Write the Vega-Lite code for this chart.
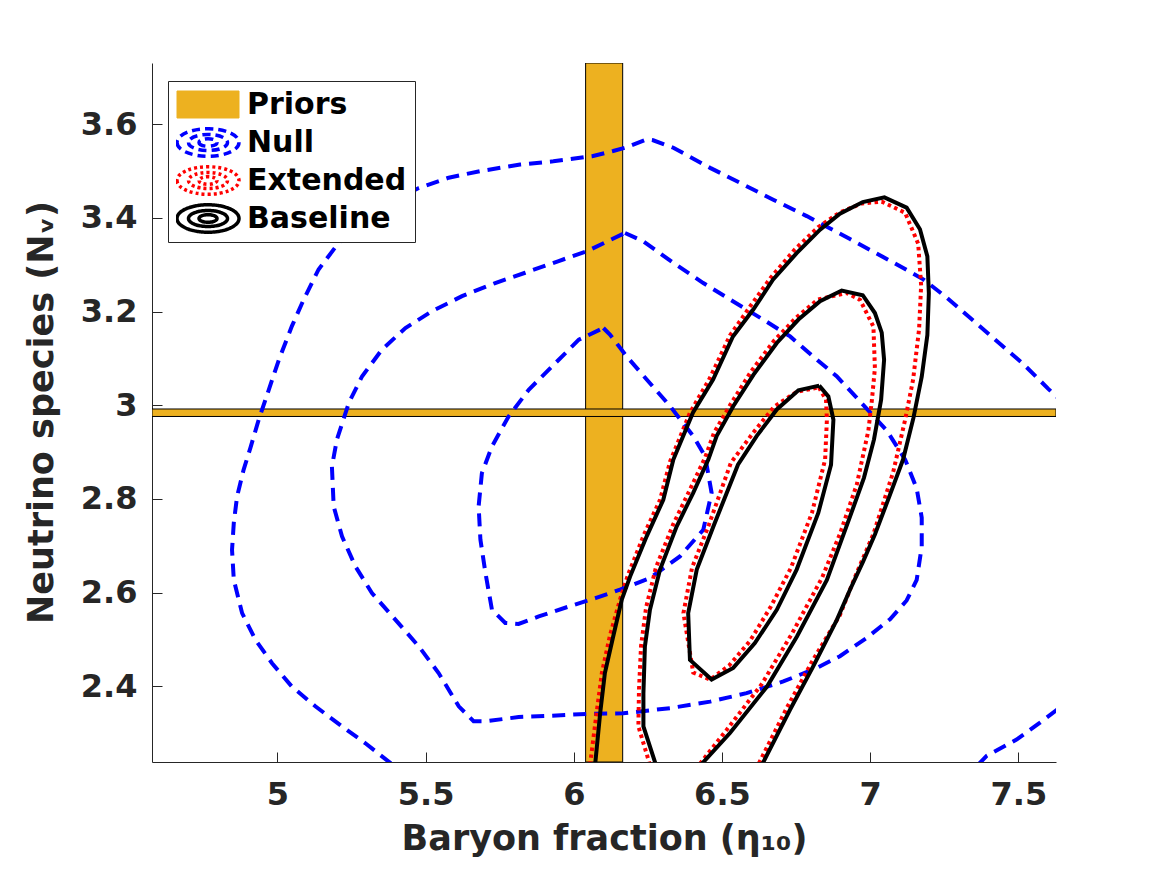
{
  "$schema": "https://vega.github.io/schema/vega-lite/v6.json",
  "width": 904,
  "height": 699,
  "autosize": {"type": "none"},
  "padding": {"left": 152, "top": 63, "right": 111, "bottom": 113},
  "background": "white",
  "config": {
    "view": {"stroke": null},
    "font": "DejaVu Sans"
  },
  "datasets": {
    "priors": [
      {"s": "Priors", "x": 6.04, "x2": 6.165, "y": 2.238, "y2": 3.731},
      {"s": "Priors", "x": 4.577, "x2": 7.627, "y": 2.976, "y2": 2.992}
    ],
    "nullc": [
      {"s":"Null","k":"N1","i":0,"x":5.383,"y":2.235},
      {"s":"Null","k":"N1","i":1,"x":5.297,"y":2.278},
      {"s":"Null","k":"N1","i":2,"x":5.218,"y":2.314},
      {"s":"Null","k":"N1","i":3,"x":5.128,"y":2.357},
      {"s":"Null","k":"N1","i":4,"x":5.049,"y":2.399},
      {"s":"Null","k":"N1","i":5,"x":4.982,"y":2.449},
      {"s":"Null","k":"N1","i":6,"x":4.926,"y":2.499},
      {"s":"Null","k":"N1","i":7,"x":4.881,"y":2.556},
      {"s":"Null","k":"N1","i":8,"x":4.853,"y":2.627},
      {"s":"Null","k":"N1","i":9,"x":4.847,"y":2.691},
      {"s":"Null","k":"N1","i":10,"x":4.853,"y":2.749},
      {"s":"Null","k":"N1","i":11,"x":4.864,"y":2.805},
      {"s":"Null","k":"N1","i":12,"x":4.886,"y":2.862},
      {"s":"Null","k":"N1","i":13,"x":4.909,"y":2.909},
      {"s":"Null","k":"N1","i":14,"x":4.937,"y":2.969},
      {"s":"Null","k":"N1","i":15,"x":4.971,"y":3.033},
      {"s":"Null","k":"N1","i":16,"x":5.005,"y":3.097},
      {"s":"Null","k":"N1","i":17,"x":5.049,"y":3.169},
      {"s":"Null","k":"N1","i":18,"x":5.089,"y":3.226},
      {"s":"Null","k":"N1","i":19,"x":5.139,"y":3.290},
      {"s":"Null","k":"N1","i":20,"x":5.207,"y":3.347},
      {"s":"Null","k":"N1","i":21,"x":5.319,"y":3.414},
      {"s":"Null","k":"N1","i":22,"x":5.477,"y":3.464},
      {"s":"Null","k":"N1","i":23,"x":5.578,"y":3.486},
      {"s":"Null","k":"N1","i":24,"x":5.684,"y":3.500},
      {"s":"Null","k":"N1","i":25,"x":5.819,"y":3.514},
      {"s":"Null","k":"N1","i":26,"x":5.931,"y":3.521},
      {"s":"Null","k":"N1","i":27,"x":6.062,"y":3.532},
      {"s":"Null","k":"N1","i":28,"x":6.133,"y":3.543},
      {"s":"Null","k":"N1","i":29,"x":6.173,"y":3.550},
      {"s":"Null","k":"N1","i":30,"x":6.246,"y":3.568},
      {"s":"Null","k":"N1","i":31,"x":6.268,"y":3.566},
      {"s":"Null","k":"N1","i":32,"x":6.336,"y":3.550},
      {"s":"Null","k":"N1","i":33,"x":6.460,"y":3.507},
      {"s":"Null","k":"N1","i":34,"x":6.561,"y":3.475},
      {"s":"Null","k":"N1","i":35,"x":6.673,"y":3.439},
      {"s":"Null","k":"N1","i":36,"x":6.786,"y":3.404},
      {"s":"Null","k":"N1","i":37,"x":6.932,"y":3.355},
      {"s":"Null","k":"N1","i":38,"x":7.078,"y":3.305},
      {"s":"Null","k":"N1","i":39,"x":7.179,"y":3.269},
      {"s":"Null","k":"N1","i":40,"x":7.258,"y":3.230},
      {"s":"Null","k":"N1","i":41,"x":7.348,"y":3.181},
      {"s":"Null","k":"N1","i":42,"x":7.427,"y":3.137},
      {"s":"Null","k":"N1","i":43,"x":7.517,"y":3.088},
      {"s":"Null","k":"N1","i":44,"x":7.601,"y":3.035},
      {"s":"Null","k":"N1","i":45,"x":7.640,"y":3.012},
      {"s":"Null","k":"N2","i":0,"x":7.364,"y":2.232},
      {"s":"Null","k":"N2","i":1,"x":7.393,"y":2.251},
      {"s":"Null","k":"N2","i":2,"x":7.494,"y":2.286},
      {"s":"Null","k":"N2","i":3,"x":7.573,"y":2.322},
      {"s":"Null","k":"N2","i":4,"x":7.640,"y":2.354},
      {"s":"Null","k":"N3","i":0,"x":6.173,"y":3.368},
      {"s":"Null","k":"N3","i":1,"x":6.235,"y":3.350},
      {"s":"Null","k":"N3","i":2,"x":6.336,"y":3.304},
      {"s":"Null","k":"N3","i":3,"x":6.437,"y":3.261},
      {"s":"Null","k":"N3","i":4,"x":6.527,"y":3.226},
      {"s":"Null","k":"N3","i":5,"x":6.639,"y":3.183},
      {"s":"Null","k":"N3","i":6,"x":6.730,"y":3.147},
      {"s":"Null","k":"N3","i":7,"x":6.808,"y":3.104},
      {"s":"Null","k":"N3","i":8,"x":6.887,"y":3.062},
      {"s":"Null","k":"N3","i":9,"x":6.966,"y":3.008},
      {"s":"Null","k":"N3","i":10,"x":7.056,"y":2.946},
      {"s":"Null","k":"N3","i":11,"x":7.118,"y":2.884},
      {"s":"Null","k":"N3","i":12,"x":7.157,"y":2.822},
      {"s":"Null","k":"N3","i":13,"x":7.174,"y":2.760},
      {"s":"Null","k":"N3","i":14,"x":7.174,"y":2.698},
      {"s":"Null","k":"N3","i":15,"x":7.157,"y":2.627},
      {"s":"Null","k":"N3","i":16,"x":7.123,"y":2.583},
      {"s":"Null","k":"N3","i":17,"x":7.067,"y":2.543},
      {"s":"Null","k":"N3","i":18,"x":6.988,"y":2.503},
      {"s":"Null","k":"N3","i":19,"x":6.898,"y":2.464},
      {"s":"Null","k":"N3","i":20,"x":6.820,"y":2.439},
      {"s":"Null","k":"N3","i":21,"x":6.707,"y":2.410},
      {"s":"Null","k":"N3","i":22,"x":6.583,"y":2.385},
      {"s":"Null","k":"N3","i":23,"x":6.460,"y":2.367},
      {"s":"Null","k":"N3","i":24,"x":6.325,"y":2.353},
      {"s":"Null","k":"N3","i":25,"x":6.167,"y":2.342},
      {"s":"Null","k":"N3","i":26,"x":6.050,"y":2.341},
      {"s":"Null","k":"N3","i":27,"x":5.927,"y":2.337},
      {"s":"Null","k":"N3","i":28,"x":5.814,"y":2.334},
      {"s":"Null","k":"N3","i":29,"x":5.702,"y":2.325},
      {"s":"Null","k":"N3","i":30,"x":5.662,"y":2.325},
      {"s":"Null","k":"N3","i":31,"x":5.612,"y":2.357},
      {"s":"Null","k":"N3","i":32,"x":5.544,"y":2.428},
      {"s":"Null","k":"N3","i":33,"x":5.477,"y":2.485},
      {"s":"Null","k":"N3","i":34,"x":5.398,"y":2.542},
      {"s":"Null","k":"N3","i":35,"x":5.319,"y":2.599},
      {"s":"Null","k":"N3","i":36,"x":5.263,"y":2.656},
      {"s":"Null","k":"N3","i":37,"x":5.218,"y":2.720},
      {"s":"Null","k":"N3","i":38,"x":5.190,"y":2.784},
      {"s":"Null","k":"N3","i":39,"x":5.184,"y":2.869},
      {"s":"Null","k":"N3","i":40,"x":5.201,"y":2.927},
      {"s":"Null","k":"N3","i":41,"x":5.241,"y":3.005},
      {"s":"Null","k":"N3","i":42,"x":5.286,"y":3.062},
      {"s":"Null","k":"N3","i":43,"x":5.353,"y":3.119},
      {"s":"Null","k":"N3","i":44,"x":5.432,"y":3.165},
      {"s":"Null","k":"N3","i":45,"x":5.522,"y":3.201},
      {"s":"Null","k":"N3","i":46,"x":5.623,"y":3.233},
      {"s":"Null","k":"N3","i":47,"x":5.735,"y":3.261},
      {"s":"Null","k":"N3","i":48,"x":5.836,"y":3.283},
      {"s":"Null","k":"N3","i":49,"x":5.949,"y":3.308},
      {"s":"Null","k":"N3","i":50,"x":6.044,"y":3.329},
      {"s":"Null","k":"N3","i":51,"x":6.173,"y":3.368},
      {"s":"Null","k":"N4","i":0,"x":6.100,"y":3.165},
      {"s":"Null","k":"N4","i":1,"x":6.122,"y":3.151},
      {"s":"Null","k":"N4","i":2,"x":6.179,"y":3.104},
      {"s":"Null","k":"N4","i":3,"x":6.246,"y":3.055},
      {"s":"Null","k":"N4","i":4,"x":6.325,"y":2.998},
      {"s":"Null","k":"N4","i":5,"x":6.403,"y":2.934},
      {"s":"Null","k":"N4","i":6,"x":6.443,"y":2.891},
      {"s":"Null","k":"N4","i":7,"x":6.465,"y":2.813},
      {"s":"Null","k":"N4","i":8,"x":6.437,"y":2.734},
      {"s":"Null","k":"N4","i":9,"x":6.358,"y":2.677},
      {"s":"Null","k":"N4","i":10,"x":6.257,"y":2.631},
      {"s":"Null","k":"N4","i":11,"x":6.156,"y":2.606},
      {"s":"Null","k":"N4","i":12,"x":6.073,"y":2.588},
      {"s":"Null","k":"N4","i":13,"x":5.983,"y":2.570},
      {"s":"Null","k":"N4","i":14,"x":5.882,"y":2.549},
      {"s":"Null","k":"N4","i":15,"x":5.814,"y":2.533},
      {"s":"Null","k":"N4","i":16,"x":5.769,"y":2.535},
      {"s":"Null","k":"N4","i":17,"x":5.724,"y":2.563},
      {"s":"Null","k":"N4","i":18,"x":5.702,"y":2.642},
      {"s":"Null","k":"N4","i":19,"x":5.685,"y":2.713},
      {"s":"Null","k":"N4","i":20,"x":5.679,"y":2.784},
      {"s":"Null","k":"N4","i":21,"x":5.690,"y":2.855},
      {"s":"Null","k":"N4","i":22,"x":5.724,"y":2.912},
      {"s":"Null","k":"N4","i":23,"x":5.780,"y":2.976},
      {"s":"Null","k":"N4","i":24,"x":5.848,"y":3.033},
      {"s":"Null","k":"N4","i":25,"x":5.927,"y":3.083},
      {"s":"Null","k":"N4","i":26,"x":6.017,"y":3.140},
      {"s":"Null","k":"N4","i":27,"x":6.100,"y":3.165}
    ],
    "extc": [
      {"s":"Extended","k":"E1","i":0,"x":6.055,"y":2.232},
      {"s":"Extended","k":"E1","i":1,"x":6.077,"y":2.343},
      {"s":"Extended","k":"E1","i":2,"x":6.095,"y":2.429},
      {"s":"Extended","k":"E1","i":3,"x":6.122,"y":2.508},
      {"s":"Extended","k":"E1","i":4,"x":6.156,"y":2.585},
      {"s":"Extended","k":"E1","i":5,"x":6.183,"y":2.638},
      {"s":"Extended","k":"E1","i":6,"x":6.237,"y":2.724},
      {"s":"Extended","k":"E1","i":7,"x":6.291,"y":2.798},
      {"s":"Extended","k":"E1","i":8,"x":6.325,"y":2.880},
      {"s":"Extended","k":"E1","i":9,"x":6.392,"y":2.984},
      {"s":"Extended","k":"E1","i":10,"x":6.460,"y":3.059},
      {"s":"Extended","k":"E1","i":11,"x":6.527,"y":3.149},
      {"s":"Extended","k":"E1","i":12,"x":6.595,"y":3.211},
      {"s":"Extended","k":"E1","i":13,"x":6.665,"y":3.273},
      {"s":"Extended","k":"E1","i":14,"x":6.746,"y":3.333},
      {"s":"Extended","k":"E1","i":15,"x":6.824,"y":3.380},
      {"s":"Extended","k":"E1","i":16,"x":6.898,"y":3.412},
      {"s":"Extended","k":"E1","i":17,"x":6.972,"y":3.431},
      {"s":"Extended","k":"E1","i":18,"x":7.039,"y":3.435},
      {"s":"Extended","k":"E1","i":19,"x":7.118,"y":3.411},
      {"s":"Extended","k":"E1","i":20,"x":7.162,"y":3.345},
      {"s":"Extended","k":"E1","i":21,"x":7.172,"y":3.256},
      {"s":"Extended","k":"E1","i":22,"x":7.165,"y":3.162},
      {"s":"Extended","k":"E1","i":23,"x":7.145,"y":3.055},
      {"s":"Extended","k":"E1","i":24,"x":7.118,"y":2.969},
      {"s":"Extended","k":"E1","i":25,"x":7.078,"y":2.858},
      {"s":"Extended","k":"E1","i":26,"x":7.011,"y":2.725},
      {"s":"Extended","k":"E1","i":27,"x":6.952,"y":2.638},
      {"s":"Extended","k":"E1","i":28,"x":6.898,"y":2.552},
      {"s":"Extended","k":"E1","i":29,"x":6.807,"y":2.456},
      {"s":"Extended","k":"E1","i":30,"x":6.719,"y":2.354},
      {"s":"Extended","k":"E1","i":31,"x":6.622,"y":2.232},
      {"s":"Extended","k":"E2","i":0,"x":6.257,"y":2.232},
      {"s":"Extended","k":"E2","i":1,"x":6.218,"y":2.314},
      {"s":"Extended","k":"E2","i":2,"x":6.220,"y":2.392},
      {"s":"Extended","k":"E2","i":3,"x":6.227,"y":2.486},
      {"s":"Extended","k":"E2","i":4,"x":6.244,"y":2.568},
      {"s":"Extended","k":"E2","i":5,"x":6.277,"y":2.653},
      {"s":"Extended","k":"E2","i":6,"x":6.335,"y":2.745},
      {"s":"Extended","k":"E2","i":7,"x":6.392,"y":2.820},
      {"s":"Extended","k":"E2","i":8,"x":6.443,"y":2.888},
      {"s":"Extended","k":"E2","i":9,"x":6.473,"y":2.941},
      {"s":"Extended","k":"E2","i":10,"x":6.530,"y":3.003},
      {"s":"Extended","k":"E2","i":11,"x":6.598,"y":3.072},
      {"s":"Extended","k":"E2","i":12,"x":6.676,"y":3.138},
      {"s":"Extended","k":"E2","i":13,"x":6.750,"y":3.187},
      {"s":"Extended","k":"E2","i":14,"x":6.824,"y":3.226},
      {"s":"Extended","k":"E2","i":15,"x":6.921,"y":3.240},
      {"s":"Extended","k":"E2","i":16,"x":6.966,"y":3.225},
      {"s":"Extended","k":"E2","i":17,"x":7.011,"y":3.168},
      {"s":"Extended","k":"E2","i":18,"x":7.016,"y":3.079},
      {"s":"Extended","k":"E2","i":19,"x":7.006,"y":3.012},
      {"s":"Extended","k":"E2","i":20,"x":6.994,"y":2.946},
      {"s":"Extended","k":"E2","i":21,"x":6.955,"y":2.831},
      {"s":"Extended","k":"E2","i":22,"x":6.898,"y":2.725},
      {"s":"Extended","k":"E2","i":23,"x":6.838,"y":2.632},
      {"s":"Extended","k":"E2","i":24,"x":6.736,"y":2.512},
      {"s":"Extended","k":"E2","i":25,"x":6.635,"y":2.405},
      {"s":"Extended","k":"E2","i":26,"x":6.514,"y":2.305},
      {"s":"Extended","k":"E2","i":27,"x":6.423,"y":2.232},
      {"s":"Extended","k":"E3","i":0,"x":6.827,"y":3.038},
      {"s":"Extended","k":"E3","i":1,"x":6.851,"y":3.012},
      {"s":"Extended","k":"E3","i":2,"x":6.854,"y":2.969},
      {"s":"Extended","k":"E3","i":3,"x":6.848,"y":2.884},
      {"s":"Extended","k":"E3","i":4,"x":6.804,"y":2.771},
      {"s":"Extended","k":"E3","i":5,"x":6.733,"y":2.653},
      {"s":"Extended","k":"E3","i":6,"x":6.665,"y":2.570},
      {"s":"Extended","k":"E3","i":7,"x":6.595,"y":2.497},
      {"s":"Extended","k":"E3","i":8,"x":6.524,"y":2.444},
      {"s":"Extended","k":"E3","i":9,"x":6.460,"y":2.414},
      {"s":"Extended","k":"E3","i":10,"x":6.403,"y":2.429},
      {"s":"Extended","k":"E3","i":11,"x":6.370,"y":2.556},
      {"s":"Extended","k":"E3","i":12,"x":6.399,"y":2.653},
      {"s":"Extended","k":"E3","i":13,"x":6.456,"y":2.745},
      {"s":"Extended","k":"E3","i":14,"x":6.530,"y":2.877},
      {"s":"Extended","k":"E3","i":15,"x":6.605,"y":2.941},
      {"s":"Extended","k":"E3","i":16,"x":6.676,"y":2.997},
      {"s":"Extended","k":"E3","i":17,"x":6.753,"y":3.029},
      {"s":"Extended","k":"E3","i":18,"x":6.827,"y":3.038}
    ],
    "basec": [
      {"s":"Baseline","k":"B1","i":0,"x":6.072,"y":2.232},
      {"s":"Baseline","k":"B1","i":1,"x":6.089,"y":2.342},
      {"s":"Baseline","k":"B1","i":2,"x":6.105,"y":2.428},
      {"s":"Baseline","k":"B1","i":3,"x":6.133,"y":2.506},
      {"s":"Baseline","k":"B1","i":4,"x":6.162,"y":2.585},
      {"s":"Baseline","k":"B1","i":5,"x":6.190,"y":2.634},
      {"s":"Baseline","k":"B1","i":6,"x":6.246,"y":2.720},
      {"s":"Baseline","k":"B1","i":7,"x":6.302,"y":2.798},
      {"s":"Baseline","k":"B1","i":8,"x":6.336,"y":2.884},
      {"s":"Baseline","k":"B1","i":9,"x":6.402,"y":2.984},
      {"s":"Baseline","k":"B1","i":10,"x":6.470,"y":3.055},
      {"s":"Baseline","k":"B1","i":11,"x":6.537,"y":3.147},
      {"s":"Baseline","k":"B1","i":12,"x":6.605,"y":3.204},
      {"s":"Baseline","k":"B1","i":13,"x":6.672,"y":3.268},
      {"s":"Baseline","k":"B1","i":14,"x":6.752,"y":3.325},
      {"s":"Baseline","k":"B1","i":15,"x":6.831,"y":3.375},
      {"s":"Baseline","k":"B1","i":16,"x":6.898,"y":3.409},
      {"s":"Baseline","k":"B1","i":17,"x":6.975,"y":3.434},
      {"s":"Baseline","k":"B1","i":18,"x":7.048,"y":3.444},
      {"s":"Baseline","k":"B1","i":19,"x":7.123,"y":3.422},
      {"s":"Baseline","k":"B1","i":20,"x":7.168,"y":3.376},
      {"s":"Baseline","k":"B1","i":21,"x":7.193,"y":3.318},
      {"s":"Baseline","k":"B1","i":22,"x":7.198,"y":3.239},
      {"s":"Baseline","k":"B1","i":23,"x":7.193,"y":3.150},
      {"s":"Baseline","k":"B1","i":24,"x":7.174,"y":3.061},
      {"s":"Baseline","k":"B1","i":25,"x":7.146,"y":2.973},
      {"s":"Baseline","k":"B1","i":26,"x":7.111,"y":2.884},
      {"s":"Baseline","k":"B1","i":27,"x":7.067,"y":2.809},
      {"s":"Baseline","k":"B1","i":28,"x":7.016,"y":2.724},
      {"s":"Baseline","k":"B1","i":29,"x":6.976,"y":2.666},
      {"s":"Baseline","k":"B1","i":30,"x":6.932,"y":2.606},
      {"s":"Baseline","k":"B1","i":31,"x":6.888,"y":2.542},
      {"s":"Baseline","k":"B1","i":32,"x":6.807,"y":2.441},
      {"s":"Baseline","k":"B1","i":33,"x":6.730,"y":2.350},
      {"s":"Baseline","k":"B1","i":34,"x":6.635,"y":2.232},
      {"s":"Baseline","k":"B2","i":0,"x":6.277,"y":2.232},
      {"s":"Baseline","k":"B2","i":1,"x":6.235,"y":2.314},
      {"s":"Baseline","k":"B2","i":2,"x":6.235,"y":2.385},
      {"s":"Baseline","k":"B2","i":3,"x":6.240,"y":2.485},
      {"s":"Baseline","k":"B2","i":4,"x":6.257,"y":2.563},
      {"s":"Baseline","k":"B2","i":5,"x":6.291,"y":2.649},
      {"s":"Baseline","k":"B2","i":6,"x":6.347,"y":2.741},
      {"s":"Baseline","k":"B2","i":7,"x":6.403,"y":2.813},
      {"s":"Baseline","k":"B2","i":8,"x":6.454,"y":2.884},
      {"s":"Baseline","k":"B2","i":9,"x":6.482,"y":2.934},
      {"s":"Baseline","k":"B2","i":10,"x":6.538,"y":2.998},
      {"s":"Baseline","k":"B2","i":11,"x":6.606,"y":3.065},
      {"s":"Baseline","k":"B2","i":12,"x":6.685,"y":3.133},
      {"s":"Baseline","k":"B2","i":13,"x":6.758,"y":3.183},
      {"s":"Baseline","k":"B2","i":14,"x":6.831,"y":3.222},
      {"s":"Baseline","k":"B2","i":15,"x":6.904,"y":3.245},
      {"s":"Baseline","k":"B2","i":16,"x":6.975,"y":3.235},
      {"s":"Baseline","k":"B2","i":17,"x":7.016,"y":3.197},
      {"s":"Baseline","k":"B2","i":18,"x":7.039,"y":3.155},
      {"s":"Baseline","k":"B2","i":19,"x":7.047,"y":3.097},
      {"s":"Baseline","k":"B2","i":20,"x":7.037,"y":3.012},
      {"s":"Baseline","k":"B2","i":21,"x":7.013,"y":2.927},
      {"s":"Baseline","k":"B2","i":22,"x":6.979,"y":2.845},
      {"s":"Baseline","k":"B2","i":23,"x":6.932,"y":2.762},
      {"s":"Baseline","k":"B2","i":24,"x":6.854,"y":2.627},
      {"s":"Baseline","k":"B2","i":25,"x":6.753,"y":2.506},
      {"s":"Baseline","k":"B2","i":26,"x":6.652,"y":2.399},
      {"s":"Baseline","k":"B2","i":27,"x":6.527,"y":2.300},
      {"s":"Baseline","k":"B2","i":28,"x":6.429,"y":2.232},
      {"s":"Baseline","k":"B3","i":0,"x":6.828,"y":3.042},
      {"s":"Baseline","k":"B3","i":1,"x":6.859,"y":3.019},
      {"s":"Baseline","k":"B3","i":2,"x":6.876,"y":2.969},
      {"s":"Baseline","k":"B3","i":3,"x":6.868,"y":2.873},
      {"s":"Baseline","k":"B3","i":4,"x":6.825,"y":2.770},
      {"s":"Baseline","k":"B3","i":5,"x":6.752,"y":2.649},
      {"s":"Baseline","k":"B3","i":6,"x":6.685,"y":2.563},
      {"s":"Baseline","k":"B3","i":7,"x":6.611,"y":2.492},
      {"s":"Baseline","k":"B3","i":8,"x":6.538,"y":2.439},
      {"s":"Baseline","k":"B3","i":9,"x":6.465,"y":2.414},
      {"s":"Baseline","k":"B3","i":10,"x":6.392,"y":2.456},
      {"s":"Baseline","k":"B3","i":11,"x":6.386,"y":2.556},
      {"s":"Baseline","k":"B3","i":12,"x":6.415,"y":2.649},
      {"s":"Baseline","k":"B3","i":13,"x":6.471,"y":2.741},
      {"s":"Baseline","k":"B3","i":14,"x":6.554,"y":2.873},
      {"s":"Baseline","k":"B3","i":15,"x":6.617,"y":2.934},
      {"s":"Baseline","k":"B3","i":16,"x":6.685,"y":2.991},
      {"s":"Baseline","k":"B3","i":17,"x":6.758,"y":3.032},
      {"s":"Baseline","k":"B3","i":18,"x":6.828,"y":3.042}
    ]
  },
  "encoding": {
    "x": {
      "field": "x", "type": "quantitative",
      "scale": {"domain": [4.577, 7.627], "nice": false, "zero": false},
      "axis": {
        "title": "Baryon fraction (η₁₀)",
        "values": [5, 5.5, 6, 6.5, 7, 7.5],
        "format": ".1~f",
        "grid": false,
        "tickSize": -10,
        "tickColor": "#262626",
        "domainColor": "#262626",
        "labelPadding": 27,
        "labelFont": "DejaVu Sans",
        "labelFontSize": 32,
        "labelFontWeight": "bold",
        "labelColor": "#262626",
        "labelFlush": false,
        "labelOverlap": false,
        "titleFont": "DejaVu Sans",
        "titleFontSize": 35,
        "titleFontWeight": "bold",
        "titleColor": "#262626",
        "titleY": 59,
        "titleX": 452
      }
    },
    "y": {
      "field": "y", "type": "quantitative",
      "scale": {"domain": [2.238, 3.731], "nice": false, "zero": false},
      "axis": {
        "title": "Neutrino species (Nᵥ)",
        "values": [2.4, 2.6, 2.8, 3, 3.2, 3.4, 3.6],
        "format": ".1~f",
        "grid": false,
        "tickSize": -10,
        "tickColor": "#262626",
        "domainColor": "#262626",
        "labelPadding": 25,
        "labelFont": "DejaVu Sans",
        "labelFontSize": 32,
        "labelFontWeight": "bold",
        "labelColor": "#262626",
        "labelFlush": false,
        "labelOverlap": false,
        "titleFont": "DejaVu Sans",
        "titleFontSize": 35,
        "titleFontWeight": "bold",
        "titleColor": "#262626",
        "titleAngle": 270,
        "titleBaseline": "bottom",
        "titleAlign": "center",
        "titleX": -93,
        "titleY": 349
      }
    }
  },
  "layer": [
    {
      "data": {"name": "priors"},
      "mark": {"type": "rect", "fill": "#EDB120", "stroke": "#000000", "strokeWidth": 1, "opacity": 1, "clip": true},
      "encoding": {
        "x2": {"field": "x2"},
        "y2": {"field": "y2"}
      }
    },
    {
      "encoding": {
        "color": {
          "field": "s", "type": "nominal",
          "scale": {"domain": ["Priors", "Null", "Extended", "Baseline"], "range": ["#EDB120", "#0000FF", "#FF0000", "#000000"]},
          "legend": {
            "title": null,
            "orient": "none",
            "legendX": 16,
            "legendY": 18,
            "padding": 8,
            "rowPadding": 7,
            "clipHeight": 31,
            "labelOffset": 41,
            "symbolSize": 650,
            "labelFont": "DejaVu Sans",
            "labelFontSize": 30,
            "labelFontWeight": "bold",
            "labelColor": "#000000",
            "strokeColor": "#262626",
            "fillColor": "white",
            "cornerRadius": 0,
            "encode": {
              "symbols": {
                "update": {
                  "size": {"value": 650},
                  "shape": {"signal": "(datum.value === 'Priors' ? 'M-1.098,-1.059L3.766,-1.059L3.766,1.059L-1.098,1.059Z' : 'M-1.098,0A2.432,1.079,0,1,0,3.766,0A2.432,1.079,0,1,0,-1.098,0ZM-0.196,0A1.53,0.628,0,1,0,2.864,0A1.53,0.628,0,1,0,-0.196,0ZM0.628,0A0.706,0.298,0,1,0,2.04,0A0.706,0.298,0,1,0,0.628,0Z')"},
                  "fill": {"signal": "(datum.value === 'Priors' ? '#EDB120' : 'transparent')"},
                  "stroke": {"signal": "(datum.value === 'Null' ? '#0000FF' : datum.value === 'Extended' ? '#FF0000' : '#000000')"},
                  "strokeWidth": {"signal": "(datum.value === 'Priors' ? 1 : 3.5)"},
                  "strokeDash": {"signal": "(datum.value === 'Null' ? [8, 5] : datum.value === 'Extended' ? [3, 3] : [1, 0])"},
                  "opacity": {"value": 1}
                }
              },
              "labels": {"update": {"fill": {"value": "#000000"}}}
            }
          }
        }
      },
      "layer": [
        {
          "data": {"name": "nullc"},
          "mark": {"type": "line", "strokeWidth": 4, "strokeDash": [13, 8], "clip": true},
          "encoding": {
            "detail": {"field": "k", "type": "nominal"},
            "order": {"field": "i", "type": "quantitative"}
          }
        },
        {
          "data": {"name": "extc"},
          "mark": {"type": "line", "strokeWidth": 4, "strokeDash": [3.5, 3.5], "clip": true},
          "encoding": {
            "detail": {"field": "k", "type": "nominal"},
            "order": {"field": "i", "type": "quantitative"}
          }
        },
        {
          "data": {"name": "basec"},
          "mark": {"type": "line", "strokeWidth": 4, "clip": true},
          "encoding": {
            "detail": {"field": "k", "type": "nominal"},
            "order": {"field": "i", "type": "quantitative"}
          }
        }
      ]
    }
  ]
}
